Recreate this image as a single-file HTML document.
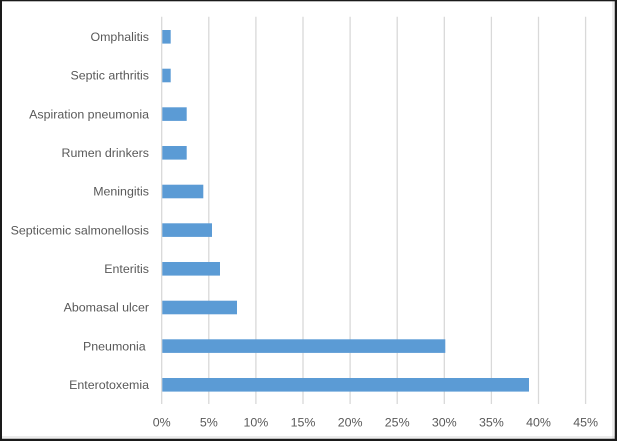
<!DOCTYPE html>
<html><head><meta charset="utf-8"><style>
html,body{margin:0;padding:0;background:#fff;}
svg{display:block;}
text{font-family:"Liberation Sans",sans-serif;font-size:12.4px;fill:#595959;}
</style></head><body>
<svg width="617" height="441" viewBox="0 0 617 441" xmlns="http://www.w3.org/2000/svg">
<rect x="0" y="0" width="617" height="441" fill="#fff"/>
<!-- gridlines -->
<g stroke="#d9d9d9" stroke-width="1.3">
<line x1="161.7" y1="16.7" x2="161.7" y2="404"/>
<line x1="208.8" y1="16.7" x2="208.8" y2="404"/>
<line x1="255.9" y1="16.7" x2="255.9" y2="404"/>
<line x1="303" y1="16.7" x2="303" y2="404"/>
<line x1="350.1" y1="16.7" x2="350.1" y2="404"/>
<line x1="397.2" y1="16.7" x2="397.2" y2="404"/>
<line x1="444.3" y1="16.7" x2="444.3" y2="404"/>
<line x1="491.4" y1="16.7" x2="491.4" y2="404"/>
<line x1="538.5" y1="16.7" x2="538.5" y2="404"/>
<line x1="585.6" y1="16.7" x2="585.6" y2="404"/>
</g>
<!-- bars -->
<g fill="#5b9bd5">
<rect x="162.3" y="30" width="8.4" height="13.6"/>
<rect x="162.3" y="68.7" width="8.4" height="13.6"/>
<rect x="162.3" y="107.3" width="24.4" height="13.6"/>
<rect x="162.3" y="146" width="24.4" height="13.6"/>
<rect x="162.3" y="184.7" width="41" height="13.6"/>
<rect x="162.3" y="223.3" width="49.7" height="13.6"/>
<rect x="162.3" y="262" width="57.7" height="13.6"/>
<rect x="162.3" y="300.7" width="74.7" height="13.6"/>
<rect x="162.3" y="339.3" width="283" height="13.6"/>
<rect x="162.3" y="378" width="366.7" height="13.6"/>
</g>
<!-- category labels -->
<g text-anchor="end">
<text x="149" y="41">Omphalitis</text>
<text x="149" y="79.7">Septic arthritis</text>
<text x="149" y="118.3">Aspiration pneumonia</text>
<text x="149" y="157">Rumen drinkers</text>
<text x="149" y="195.7">Meningitis</text>
<text x="149" y="234.3">Septicemic salmonellosis</text>
<text x="149" y="273">Enteritis</text>
<text x="149" y="311.7">Abomasal ulcer</text>
<text x="145.7" y="350.3">Pneumonia</text>
<text x="149" y="389">Enterotoxemia</text>
</g>
<!-- tick labels -->
<g text-anchor="middle">
<text x="161.7" y="426.7">0%</text>
<text x="208.8" y="426.7">5%</text>
<text x="255.9" y="426.7">10%</text>
<text x="303" y="426.7">15%</text>
<text x="350.1" y="426.7">20%</text>
<text x="397.2" y="426.7">25%</text>
<text x="444.3" y="426.7">30%</text>
<text x="491.4" y="426.7">35%</text>
<text x="538.5" y="426.7">40%</text>
<text x="585.6" y="426.7">45%</text>
</g>
<!-- border -->
<line x1="613" y1="0" x2="613" y2="441" stroke="#d9d9d9" stroke-width="1"/>
<line x1="0" y1="437" x2="617" y2="437" stroke="#d9d9d9" stroke-width="1"/>
<rect x="0" y="0" width="617" height="1.3" fill="#1a1a1a"/>
<rect x="0" y="0" width="2" height="441" fill="#1a1a1a"/>
<rect x="614.7" y="0" width="2.3" height="441" fill="#1a1a1a"/>
<rect x="0" y="438.7" width="617" height="2.3" fill="#1a1a1a"/>
</svg>
</body></html>
